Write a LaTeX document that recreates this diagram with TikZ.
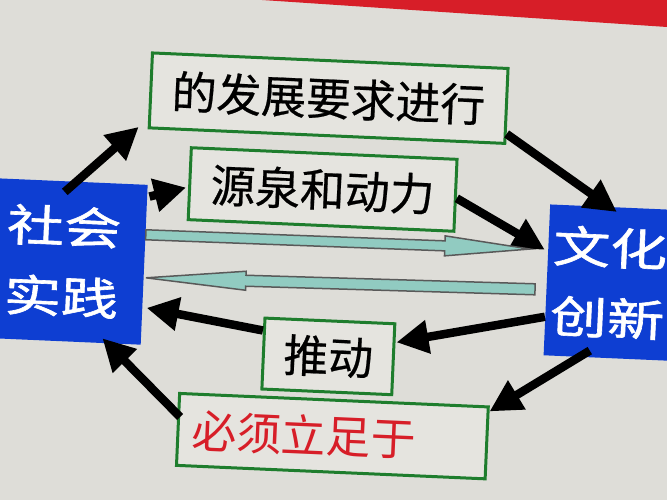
\documentclass[tikz,border=0pt]{standalone}
\usepackage{fontspec}
\newfontfamily\cjk[FakeBold=0.5]{Noto Sans CJK SC}
\newfontfamily\cjkthin{Noto Sans CJK SC}
\newfontfamily\cjkwide[FakeStretch=1.3,FakeBold=1.4]{Noto Sans CJK SC}
\usetikzlibrary{arrows.meta,calc}

\definecolor{slide}{RGB}{222,221,216}
\definecolor{boxfill}{RGB}{229,228,223}
\definecolor{slideblue}{RGB}{14,62,210}
\definecolor{boxgreen}{RGB}{30,125,45}
\definecolor{slidered}{RGB}{215,30,40}
\definecolor{tealfill}{RGB}{145,203,193}

% slim outlined arrow: start, tip, head length, shaft half width, head half width
\newcommand\slimarrow[5]{%
  \coordinate (hb) at ($(#2)!#3!(#1)$);
  \filldraw[tealarr] ($(#1)!#4!90:(#2)$) -- ($(hb)!#4!90:(#2)$) -- ($(hb)!#5!90:(#2)$)
    -- (#2) -- ($(hb)!#5!-90:(#2)$) -- ($(hb)!#4!-90:(#2)$) -- ($(#1)!#4!-90:(#2)$) -- cycle;}

\begin{document}
\begin{tikzpicture}[x=0.02cm, y=-0.02cm,
    bluebox/.style={fill=slideblue, text=white, align=center, inner sep=0pt,
      font=\cjkwide\fontsize{25pt}{40pt}\selectfont},
    greenbox/.style={draw=boxgreen, fill=boxfill, line width=0.06cm, inner sep=0pt,
      font=\cjk\fontsize{25.5pt}{30pt}\selectfont},
    fat/.style={line width=0.17cm, -{Triangle[length=0.64cm,width=0.64cm]}},
    tealarr/.style={draw=black!65, fill=tealfill, line width=0.03cm}]
    % Slide background
    \fill[slide] (0,0) rectangle (667,500);
    \useasboundingbox (0,0) rectangle (667,500);
    
    % Red title band, cut by the photo
    \fill[slidered] (262,0) -- (667,0) -- (667,27) -- cycle;
    
    \begin{scope}[rotate around={-2.5:(333,250)}, transform shape]
    % Boxes
    \node[bluebox, minimum width=3.26cm, minimum height=3.2cm] (shehui) at (63.5,273) {社会\\实践};
    \node[bluebox, minimum width=2.48cm, minimum height=3.02cm] (wenhua) at (610,270.5) {文化\\创新};
    \node[greenbox, minimum width=7.12cm, minimum height=1.5cm] (fazhan) at (322,98.5) {的发展要求进行};
    \node[greenbox, minimum width=5.32cm, minimum height=1.44cm] (yuanquan) at (320,190) {源泉和动力};
    \node[greenbox, minimum width=2.6cm, minimum height=1.42cm] (tuidong) at (333,356.5) {推动};
    \node[greenbox, font=\cjkthin\fontsize{25.5pt}{30pt}\selectfont, text=slidered,
      text width=5.62cm, align=left, inner xsep=0.28cm,
      minimum height=1.44cm] (lizu) at (340.5,436) {必须立足于};
    
    % Black arrows
    \draw[fat] ($(shehui.north)+(-1,11)$) -- ($(fazhan.south west)+(-9,-2)$);
    \draw[fat] ($(shehui.north east)+(2,12)$) -- ($(yuanquan.west)+(-2,4)$);
    \draw[fat] ($(fazhan.south east)+(0,-11)$) -- ($(wenhua.north)+(5,5)$);
    \draw[fat] ($(yuanquan.east)+(0,3)$) -- ($(wenhua.west)+(-3,-30)$);
    \draw[fat] ($(wenhua.west)+(0,37)$) -- ($(tuidong.east)+(1,-17)$);
    \draw[fat] ($(tuidong.west)+(0,-23)$) -- ($(shehui.east)+(4,43)$);
    \draw[fat] ($(wenhua.south)+(-16,-7)$) -- ($(lizu.north east)+(0,6)$);
    \draw[fat] ($(lizu.north west)+(3,25)$) -- ($(shehui.south)+(43,-5)$);
    
    % Teal arrows
    \coordinate (t1a) at ($(shehui.east)+(0,-30)$);
    \coordinate (t1b) at ($(wenhua.west)+(-18,-30)$);
    \coordinate (t2a) at ($(wenhua.west)+(-11,10)$);
    \coordinate (t2b) at ($(shehui.east)+(2,13)$);
    \slimarrow{t1a}{t1b}{1.7cm}{0.1cm}{0.2cm}
    \slimarrow{t2a}{t2b}{2cm}{0.11cm}{0.19cm}
    \end{scope}
\end{tikzpicture}
\end{document}
